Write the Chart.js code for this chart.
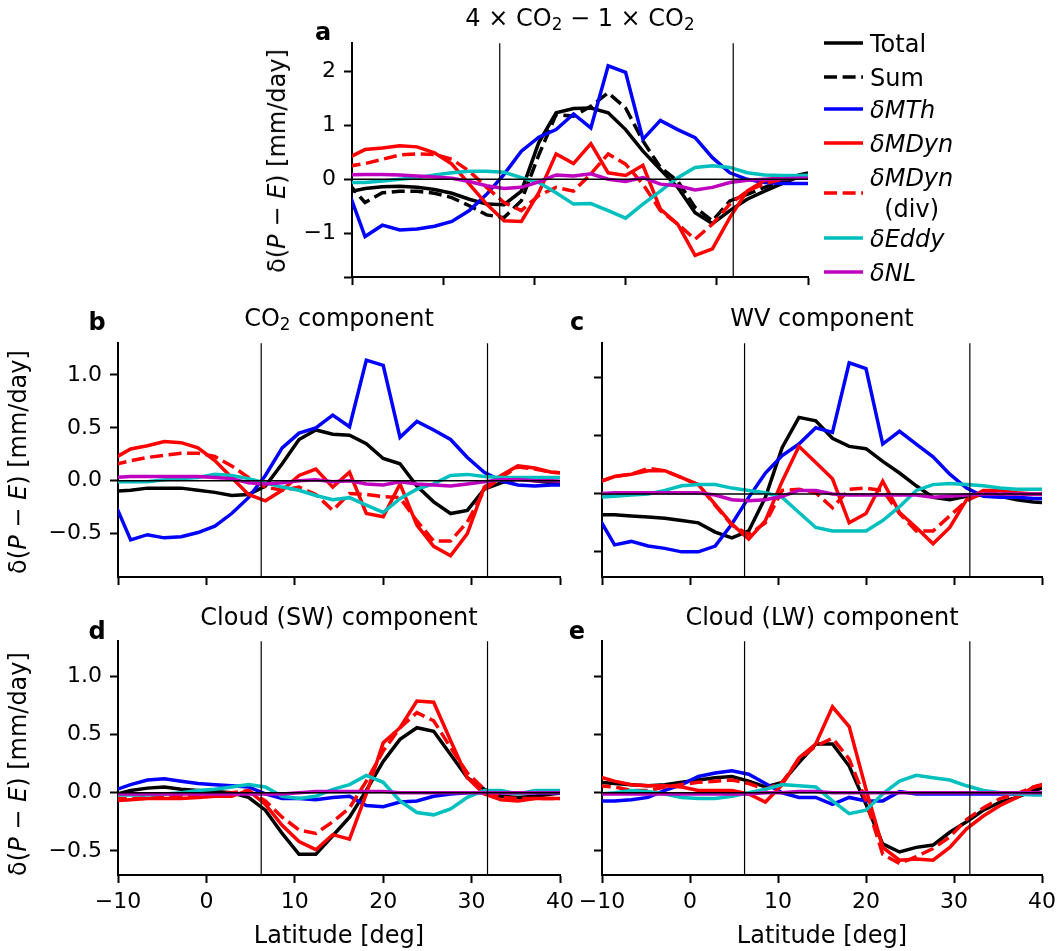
<!DOCTYPE html>
<html>
<head>
<meta charset="utf-8">
<script src="https://cdn.jsdelivr.net/npm/chart.js@4.4.0/dist/chart.umd.min.js"></script>
<style>
html, body { margin: 0; overflow: hidden; background: #fff; }
body { position: relative; width: 1060px; height: 951px; font-family: "DejaVu Sans", sans-serif; }
canvas { position: absolute; }
.t { position: absolute; transform: translate(-50%, -50%); white-space: nowrap; color: #000; font-size: 24px; line-height: 1; }
.lbl { font-weight: bold; }
.yl { transform: translate(-50%, -50%) rotate(-90deg); }
sub { font-size: 70%; vertical-align: -0.25em; line-height: 0; }
</style>
</head>
<body>
<script>
// latitude grid (deg)
const lats = [-10.48, -8.57, -6.67, -4.76, -2.86, -0.95, 0.95, 2.86, 4.76, 6.67, 8.57, 10.48, 12.38, 14.29,
              16.19, 18.09, 20.0, 21.9, 23.81, 25.71, 27.62, 29.52, 31.43, 33.33, 35.24, 37.14, 39.04, 40.95];
const vlines = [6.2, 31.8];
const xTicks = [-10, 0, 10, 20, 30, 40];

// a: 4xCO2 - 1xCO2
const aTotal   = [-0.24, -0.17, -0.14, -0.13, -0.15, -0.19, -0.26, -0.37, -0.46, -0.47, -0.22, 0.68, 1.23, 1.31, 1.32, 1.23, 0.92, 0.52, 0.18, -0.15, -0.62, -0.82, -0.58, -0.37, -0.22, -0.08, 0.05, 0.13];
const aSum     = [-0.06, -0.43, -0.25, -0.22, -0.22, -0.26, -0.34, -0.49, -0.66, -0.71, -0.40, 0.45, 1.20, 1.17, 1.35, 1.60, 1.32, 0.71, 0.22, -0.03, -0.52, -0.77, -0.40, -0.28, -0.15, -0.03, 0.08, 0.15];
const aMTh     = [-0.18, -1.06, -0.85, -0.94, -0.92, -0.87, -0.78, -0.58, -0.28, 0.09, 0.52, 0.78, 0.92, 1.21, 0.95, 2.10, 1.98, 0.74, 1.09, 0.92, 0.77, 0.40, 0.12, 0.0, -0.06, -0.08, -0.08, -0.08];
const aMDyn    = [0.39, 0.55, 0.58, 0.62, 0.60, 0.49, 0.28, -0.09, -0.46, -0.77, -0.78, -0.25, 0.47, 0.29, 0.66, 0.12, 0.07, 0.26, -0.55, -0.83, -1.41, -1.29, -0.71, -0.22, -0.02, 0.05, 0.06, 0.07];
const aMDynDiv = [0.24, 0.29, 0.37, 0.45, 0.47, 0.46, 0.37, 0.15, -0.15, -0.43, -0.58, -0.30, -0.15, -0.22, 0.10, 0.47, 0.28, -0.09, -0.58, -0.83, -1.11, -0.83, -0.46, -0.22, -0.08, 0.0, 0.04, 0.06];
const aEddy    = [-0.06, -0.06, -0.03, 0.0, 0.03, 0.08, 0.12, 0.15, 0.15, 0.13, 0.03, -0.06, -0.25, -0.46, -0.45, -0.58, -0.72, -0.46, -0.22, 0.03, 0.22, 0.25, 0.22, 0.12, 0.08, 0.07, 0.07, 0.08];
const aNL      = [0.08, 0.09, 0.09, 0.08, 0.06, 0.04, 0.02, -0.04, -0.12, -0.17, -0.15, -0.05, 0.08, 0.06, 0.10, 0.0, -0.04, 0.03, -0.09, -0.12, -0.20, -0.15, -0.06, -0.02, 0.0, 0.01, 0.02, 0.02];

// b: CO2 component
const bTotal   = [-0.10, -0.09, -0.07, -0.07, -0.07, -0.09, -0.11, -0.14, -0.13, -0.05, 0.16, 0.39, 0.48, 0.44, 0.43, 0.35, 0.21, 0.16, -0.05, -0.20, -0.31, -0.28, -0.08, -0.02, 0.02, 0.0, -0.02, -0.02];
const bMTh     = [-0.19, -0.56, -0.51, -0.54, -0.53, -0.49, -0.43, -0.31, -0.16, 0.05, 0.31, 0.45, 0.50, 0.62, 0.51, 1.14, 1.09, 0.41, 0.56, 0.48, 0.39, 0.22, 0.08, 0.0, -0.04, -0.05, -0.04, -0.04];
const bMDyn    = [0.21, 0.30, 0.33, 0.37, 0.36, 0.31, 0.19, 0.03, -0.13, -0.19, -0.09, 0.05, 0.11, -0.06, 0.08, -0.31, -0.34, -0.03, -0.42, -0.62, -0.71, -0.50, -0.06, 0.05, 0.14, 0.12, 0.08, 0.07];
const bMDynDiv = [0.15, 0.19, 0.22, 0.24, 0.26, 0.26, 0.23, 0.14, 0.03, -0.06, -0.09, -0.06, -0.13, -0.28, -0.12, -0.13, -0.15, -0.16, -0.38, -0.57, -0.57, -0.39, -0.09, 0.03, 0.13, 0.11, 0.08, 0.07];
const bEddy    = [-0.01, -0.01, -0.01, 0.01, 0.02, 0.03, 0.06, 0.05, 0.02, -0.02, -0.06, -0.09, -0.14, -0.18, -0.16, -0.23, -0.30, -0.17, -0.08, -0.03, 0.05, 0.06, 0.04, 0.03, 0.03, 0.03, 0.03, 0.03];
const bNL      = [0.03, 0.04, 0.04, 0.04, 0.04, 0.04, 0.03, 0.02, -0.02, -0.03, -0.02, 0.0, 0.01, -0.01, 0.0, -0.03, -0.04, -0.01, -0.03, -0.04, -0.05, -0.03, -0.01, 0.01, 0.01, 0.0, 0.0, -0.01];

// c: WV component
const cTotal   = [-0.18, -0.18, -0.19, -0.20, -0.21, -0.23, -0.25, -0.33, -0.38, -0.32, -0.03, 0.40, 0.66, 0.63, 0.48, 0.41, 0.39, 0.28, 0.18, 0.07, -0.03, -0.05, -0.02, -0.01, -0.02, -0.05, -0.07, -0.08];
const cMTh     = [-0.19, -0.44, -0.41, -0.45, -0.47, -0.50, -0.50, -0.45, -0.26, -0.03, 0.18, 0.33, 0.43, 0.57, 0.53, 1.13, 1.08, 0.43, 0.54, 0.43, 0.32, 0.17, 0.05, -0.02, -0.03, -0.03, -0.04, -0.04];
const cMDyn    = [0.10, 0.15, 0.17, 0.20, 0.20, 0.14, 0.08, -0.09, -0.26, -0.39, -0.23, 0.11, 0.41, 0.27, 0.13, -0.25, -0.17, 0.11, -0.16, -0.29, -0.43, -0.29, -0.05, 0.03, 0.03, 0.01, 0.0, 0.0];
const cMDynDiv = [0.10, 0.15, 0.17, 0.22, 0.20, 0.14, 0.08, -0.10, -0.27, -0.35, -0.25, 0.03, 0.04, 0.01, -0.12, 0.04, 0.05, 0.03, -0.17, -0.32, -0.32, -0.19, -0.06, 0.01, 0.01, 0.0, 0.0, 0.0];
const cEddy    = [-0.03, -0.02, -0.01, 0.0, 0.03, 0.07, 0.08, 0.08, 0.05, 0.03, 0.01, -0.03, -0.16, -0.29, -0.32, -0.32, -0.32, -0.23, -0.11, 0.03, 0.08, 0.09, 0.08, 0.07, 0.05, 0.04, 0.04, 0.04];
const cNL      = [0.0, 0.01, 0.01, 0.01, 0.01, 0.01, 0.01, -0.01, -0.05, -0.06, -0.05, -0.02, 0.03, 0.03, 0.0, -0.01, -0.01, -0.01, -0.01, -0.01, -0.03, -0.02, -0.01, 0.0, 0.0, 0.0, 0.0, 0.0];

// d: Cloud (SW) component
const dTotal   = [-0.02, 0.02, 0.04, 0.05, 0.03, 0.02, 0.01, 0.0, -0.04, -0.15, -0.35, -0.53, -0.53, -0.37, -0.21, 0.02, 0.27, 0.46, 0.56, 0.53, 0.33, 0.13, 0.03, -0.03, -0.04, -0.03, -0.01, 0.0];
const dMTh     = [0.02, 0.07, 0.11, 0.12, 0.10, 0.08, 0.07, 0.06, 0.05, -0.01, -0.05, -0.05, -0.06, -0.04, -0.03, -0.11, -0.12, -0.08, -0.07, -0.03, -0.01, 0.0, 0.0, 0.0, 0.0, 0.0, 0.0, 0.0];
const dMDyn    = [-0.07, -0.06, -0.05, -0.05, -0.05, -0.04, -0.03, -0.03, 0.02, -0.10, -0.28, -0.42, -0.49, -0.36, -0.40, -0.01, 0.43, 0.56, 0.79, 0.78, 0.45, 0.13, -0.01, -0.06, -0.07, -0.05, -0.05, -0.05];
const dMDynDiv = [-0.05, -0.05, -0.04, -0.04, -0.03, -0.03, -0.01, 0.0, 0.02, -0.07, -0.21, -0.32, -0.35, -0.25, -0.13, 0.10, 0.36, 0.56, 0.69, 0.62, 0.39, 0.17, 0.03, -0.04, -0.05, -0.05, -0.05, -0.05];
const dEddy    = [-0.02, -0.02, -0.02, -0.01, 0.0, 0.02, 0.03, 0.05, 0.07, 0.05, -0.03, -0.05, -0.03, 0.03, 0.07, 0.15, 0.09, -0.07, -0.17, -0.19, -0.14, -0.04, 0.02, 0.02, -0.01, 0.02, 0.02, 0.02];
const dNL      = [-0.01, -0.01, -0.01, -0.01, -0.01, -0.01, -0.01, -0.01, -0.01, -0.01, -0.01, 0.0, 0.01, 0.01, 0.01, 0.01, 0.01, 0.0, 0.0, 0.0, 0.0, 0.0, 0.0, 0.0, 0.0, 0.0, 0.0, 0.0];

// e: Cloud (LW) component
const eTotal   = [0.09, 0.08, 0.07, 0.06, 0.07, 0.09, 0.11, 0.13, 0.14, 0.10, 0.05, 0.09, 0.26, 0.42, 0.42, 0.23, -0.10, -0.44, -0.51, -0.47, -0.45, -0.34, -0.25, -0.15, -0.08, -0.04, 0.02, 0.06];
const eMTh     = [-0.07, -0.07, -0.06, -0.04, 0.02, 0.07, 0.14, 0.17, 0.19, 0.16, 0.08, 0.0, -0.04, -0.04, -0.10, -0.04, -0.07, -0.07, 0.01, -0.01, -0.01, -0.01, -0.01, -0.01, -0.01, -0.01, -0.01, -0.01];
const eMDyn    = [0.14, 0.10, 0.07, 0.06, 0.06, 0.05, 0.02, 0.02, 0.02, -0.01, -0.08, 0.07, 0.30, 0.42, 0.74, 0.57, 0.03, -0.47, -0.58, -0.57, -0.58, -0.47, -0.31, -0.20, -0.11, -0.04, 0.05, 0.09];
const eMDynDiv = [0.06, 0.05, 0.02, 0.02, 0.05, 0.07, 0.09, 0.10, 0.11, 0.08, 0.03, 0.09, 0.29, 0.40, 0.47, 0.29, -0.07, -0.53, -0.61, -0.55, -0.48, -0.38, -0.23, -0.13, -0.05, -0.01, 0.05, 0.08];
const eEddy    = [-0.01, 0.0, 0.02, 0.01, -0.01, -0.04, -0.05, -0.05, -0.03, 0.0, 0.03, 0.07, 0.06, 0.05, -0.07, -0.18, -0.15, -0.01, 0.10, 0.15, 0.13, 0.11, 0.06, 0.02, 0.0, -0.01, -0.02, -0.02];
const eNL      = [-0.01, -0.01, -0.01, -0.01, -0.01, -0.01, -0.01, -0.01, -0.01, -0.01, 0.0, 0.0, 0.01, 0.01, 0.0, 0.0, 0.0, 0.0, 0.0, 0.0, 0.0, 0.0, 0.0, 0.0, 0.0, 0.0, 0.0, 0.0];

// line styles, same order as the legend
const DASH = [13, 5.6];
const styles = [
    { label: 'Total', color: '#000000', dash: [] },
    { label: 'Sum', color: '#000000', dash: DASH },
    { label: 'δMTh', color: '#0000ff', dash: [] },
    { label: 'δMDyn', color: '#ff0000', dash: [] },
    { label: 'δMDyn (div)', color: '#ff0000', dash: DASH },
    { label: 'δEddy', color: '#00bfbf', dash: [] },
    { label: 'δNL', color: '#bf00bf', dash: [] }
];

const AX_W = 75, AX_H = 55, PAD_T = 20;
const TICK_FONT = { family: 'DejaVu Sans', size: 22 };

const panels = [
    { box: [352, 42, 808, 277], y: [-1.81, 2.52], step: 1, dec: 0, yLab: true, xLab: false, padR: 200, legend: true, edgeTick: true,
      series: [aTotal, aSum, aMTh, aMDyn, aMDynDiv, aEddy, aNL] },
    { box: [118, 342, 560, 577], y: [-0.91, 1.30], step: 0.5, dec: 1, yLab: true, xLab: false, padR: 20,
      series: [bTotal, null, bMTh, bMDyn, bMDynDiv, bEddy, bNL] },
    { box: [602, 342, 1042, 577], y: [-0.717, 1.30], step: 0.5, dec: 1, yLab: false, xLab: false, padR: 20,
      series: [cTotal, null, cMTh, cMDyn, cMDynDiv, cEddy, cNL] },
    { box: [118, 640, 560, 875], y: [-0.708, 1.305], step: 0.5, dec: 1, yLab: true, xLab: true, padR: 20,
      series: [dTotal, null, dMTh, dMDyn, dMDynDiv, dEddy, dNL] },
    { box: [602, 640, 1042, 875], y: [-0.708, 1.305], step: 0.5, dec: 1, yLab: false, xLab: true, padR: 20,
      series: [eTotal, null, eMTh, eMDyn, eMDynDiv, eEddy, eNL] }
];

const fmt = (v, d) => v.toFixed(d).replace('-', '\u2212');

// legend to the right of panel a (page coordinates)
const legendRows = [
    { k: 0, y: 43 }, { k: 1, y: 77 }, { k: 2, y: 109 }, { k: 3, y: 143 },
    { k: 4, y: 193, lines: [177, 208] }, { k: 5, y: 238 }, { k: 6, y: 272 }
];
const sideLegend = {
    id: 'sideLegend',
    afterDraw(chart) {
        const ctx = chart.ctx;
        const ox = panels[0].box[0] - AX_W, oy = panels[0].box[1] - PAD_T;
        ctx.save();
        legendRows.forEach(row => {
            const s = styles[row.k];
            ctx.strokeStyle = s.color;
            ctx.lineWidth = 3.5;
            ctx.setLineDash(s.dash);
            ctx.beginPath();
            ctx.moveTo(824 - ox, row.y - oy);
            ctx.lineTo(863 - ox, row.y - oy);
            ctx.stroke();
            ctx.fillStyle = '#000';
            ctx.textBaseline = 'alphabetic';
            const italic = s.label.startsWith('δ');
            if (row.lines) {
                ctx.font = 'italic 24px "DejaVu Sans"';
                ctx.textAlign = 'center';
                const w = ctx.measureText('δMDyn').width;
                ctx.fillText('δMDyn', 870 + w / 2 - ox, row.lines[0] + 9 - oy);
                ctx.font = '24px "DejaVu Sans"';
                ctx.fillText('(div)', 870 + w / 2 - ox, row.lines[1] + 9 - oy);
            } else {
                ctx.font = (italic ? 'italic ' : '') + '24px "DejaVu Sans"';
                ctx.textAlign = 'left';
                ctx.fillText(s.label, 870 - ox, row.y + 9 - oy);
            }
        });
        ctx.restore();
    }
};

function makePanel(p) {
    const [l, t, r, b] = p.box;
    const W = r - l + AX_W + p.padR, H = b - t + PAD_T + AX_H;
    const cv = document.createElement('canvas');
    cv.width = W; cv.height = H;
    cv.style.left = (l - AX_W) + 'px';
    cv.style.top = (t - PAD_T) + 'px';
    cv.style.width = W + 'px';
    cv.style.height = H + 'px';
    document.body.appendChild(cv);

    const datasets = [];
    p.series.forEach((vals, k) => {
        if (!vals) return;
        datasets.push({
            label: styles[k].label,
            data: lats.map((x, i) => ({ x: x, y: vals[i] })),
            borderColor: styles[k].color,
            borderDash: styles[k].dash,
            borderWidth: 3.5,
            pointRadius: 0,
            tension: 0,
            fill: false,
            clip: 0,
            order: 20 - k
        });
    });
    // zero line and the two reference latitudes, drawn on top
    datasets.push({
        data: [{ x: xTicks[0], y: 0 }, { x: xTicks[xTicks.length - 1], y: 0 }],
        borderColor: '#000', borderWidth: 1.5, pointRadius: 0, clip: 0, order: 0
    });
    vlines.forEach(v => datasets.push({
        data: [{ x: v, y: p.y[0] - 1 }, { x: v, y: p.y[1] + 1 }],
        borderColor: '#000', borderWidth: 1.2, pointRadius: 0, clip: 0, order: 0
    }));

    new Chart(cv, {
        type: 'line',
        data: { datasets: datasets },
        options: {
            responsive: false,
            animation: false,
            devicePixelRatio: 1,
            layout: { padding: { left: 0, top: PAD_T, right: p.padR, bottom: 0 } },
            plugins: { legend: { display: false }, tooltip: { enabled: false } },
            scales: {
                x: {
                    type: 'linear', min: xTicks[0], max: xTicks[xTicks.length - 1],
                    afterBuildTicks: s => { s.ticks = xTicks.map(v => ({ value: v })); },
                    afterFit: s => { s.height = AX_H; },
                    grid: { drawOnChartArea: false, drawTicks: true, tickLength: 8, tickWidth: 2, tickColor: '#000' },
                    border: { display: true, color: '#000', width: 2 },
                    ticks: { color: '#000', font: TICK_FONT, padding: 6, maxRotation: 0, autoSkip: false,
                             callback: v => p.xLab ? fmt(v, 0) : '' }
                },
                y: {
                    type: 'linear', min: p.y[0], max: p.y[1],
                    afterBuildTicks: s => { if (p.edgeTick) s.ticks.unshift({ value: p.y[0] }); },
                    afterFit: s => { s.width = AX_W; },
                    grid: { drawOnChartArea: false, drawTicks: true, tickLength: 8, tickWidth: 2, tickColor: '#000' },
                    border: { display: true, color: '#000', width: 2 },
                    ticks: { color: '#000', font: TICK_FONT, padding: 8, stepSize: p.step, includeBounds: false, autoSkip: false,
                             callback: v => (p.yLab && v !== p.y[0]) ? fmt(v, p.dec) : '' }
                }
            }
        },
        plugins: p.legend ? [sideLegend] : []
    });
}

panels.forEach(makePanel);

// text labels
const texts = [
    { x: 580, y: 18, html: '4 × CO<sub>2</sub> − 1 × CO<sub>2</sub>' },
    { x: 339, y: 318, html: 'CO<sub>2</sub> component' },
    { x: 822, y: 318, html: 'WV component' },
    { x: 339, y: 617, html: 'Cloud (SW) component' },
    { x: 822, y: 617, html: 'Cloud (LW) component' },
    { x: 323, y: 32, html: 'a', cls: 'lbl' },
    { x: 97, y: 322, html: 'b', cls: 'lbl' },
    { x: 577, y: 322, html: 'c', cls: 'lbl' },
    { x: 97, y: 631, html: 'd', cls: 'lbl' },
    { x: 577, y: 631, html: 'e', cls: 'lbl' },
    { x: 277, y: 161, html: 'δ(<i>P</i> − <i>E</i>) [mm/day]', cls: 'yl' },
    { x: 18, y: 462, html: 'δ(<i>P</i> − <i>E</i>) [mm/day]', cls: 'yl' },
    { x: 18, y: 764, html: 'δ(<i>P</i> − <i>E</i>) [mm/day]', cls: 'yl' },
    { x: 339, y: 935, html: 'Latitude [deg]' },
    { x: 822, y: 935, html: 'Latitude [deg]' }
];
texts.forEach(t => {
    const d = document.createElement('div');
    d.className = 't' + (t.cls ? ' ' + t.cls : '');
    d.style.left = t.x + 'px';
    d.style.top = t.y + 'px';
    d.innerHTML = t.html;
    document.body.appendChild(d);
});
</script>
</body>
</html>
